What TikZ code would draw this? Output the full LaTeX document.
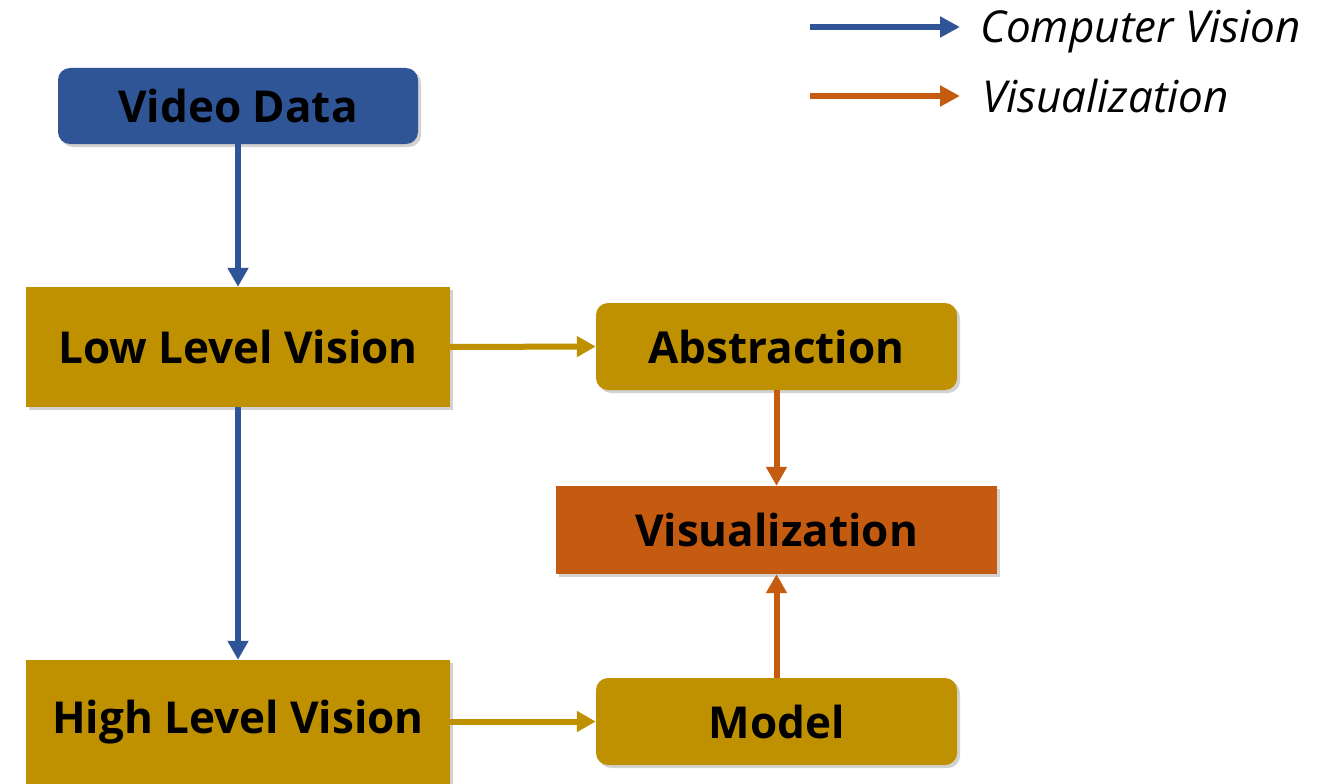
\documentclass[tikz,border=0pt]{standalone}
\usepackage{fontspec}
\setmainfont{Open Sans}
\usetikzlibrary{arrows.meta,shadows}
\definecolor{cvblue}{HTML}{2F5597}
\definecolor{gold}{HTML}{BF9000}
\definecolor{visorange}{HTML}{C55A11}
\tikzset{
  boxbase/.style={anchor=center, inner sep=0pt, text=black,
    font=\fontsize{44}{50}\selectfont\bfseries,
    drop shadow={opacity=0.35, shadow xshift=3pt, shadow yshift=-3pt}},
  roundbox/.style={boxbase, rounded corners=12pt},
  squarebox/.style={boxbase},
  conn/.style={line width=6pt, -{Triangle[length=19pt,width=20pt]}},
  legendarrow/.style={line width=6.5pt, -{Triangle[length=20pt,width=20pt]}},
  legendtext/.style={anchor=base west, inner sep=0pt, font=\fontsize{44}{50}\selectfont\itshape}
}
\begin{document}
\begin{tikzpicture}[x=1pt,y=-1pt]
\useasboundingbox (0,0) rectangle (1330,784);
\fill[white] (0,0) rectangle (1330,784);
% nodes
\node[roundbox, fill=cvblue, minimum width=360pt, minimum height=76pt] (vd) at (238,106) {\raisebox{-2pt}{Video Data}};
\node[squarebox, fill=gold, minimum width=424pt, minimum height=120pt] (llv) at (238,347) {\raisebox{-2pt}{Low Level Vision}};
\node[squarebox, fill=gold, minimum width=424pt, minimum height=124pt] (hlv) at (238,722) {\raisebox{-2pt}{High Level Vision}};
\node[roundbox, fill=gold, minimum width=361pt, minimum height=87pt] (abs) at (776.5,346.5) {\raisebox{-2pt}{Abstraction}};
\node[squarebox, fill=visorange, minimum width=441pt, minimum height=88pt] (vis) at (776.5,530) {\raisebox{-2pt}{Visualization}};
\node[roundbox, fill=gold, minimum width=361pt, minimum height=87pt] (mod) at (776.5,721.5) {\raisebox{-2pt}{Model}};
% connectors
\draw[conn, cvblue] (vd.south) -- (llv.north);
\draw[conn, cvblue] (llv.south) -- (hlv.north);
\draw[conn, gold] (llv.east) -- (abs.west);
\draw[conn, gold] (hlv.east |- mod.west) -- (mod.west);
\draw[conn, visorange] (abs.south) -- (vis.north);
\draw[conn, visorange] (mod.north) -- (vis.south);
% legend
\coordinate (l1s) at (810,27);
\coordinate (l1e) at (960,27);
\coordinate (l2s) at (810,96);
\coordinate (l2e) at (960,96);
\draw[legendarrow, cvblue] (l1s) -- (l1e);
\draw[legendarrow, visorange] (l2s) -- (l2e);
\node[legendtext] (lt1) at (980,43) {Computer Vision};
\node[legendtext] (lt2) at (982,112) {Visualization};
\end{tikzpicture}
\end{document}
